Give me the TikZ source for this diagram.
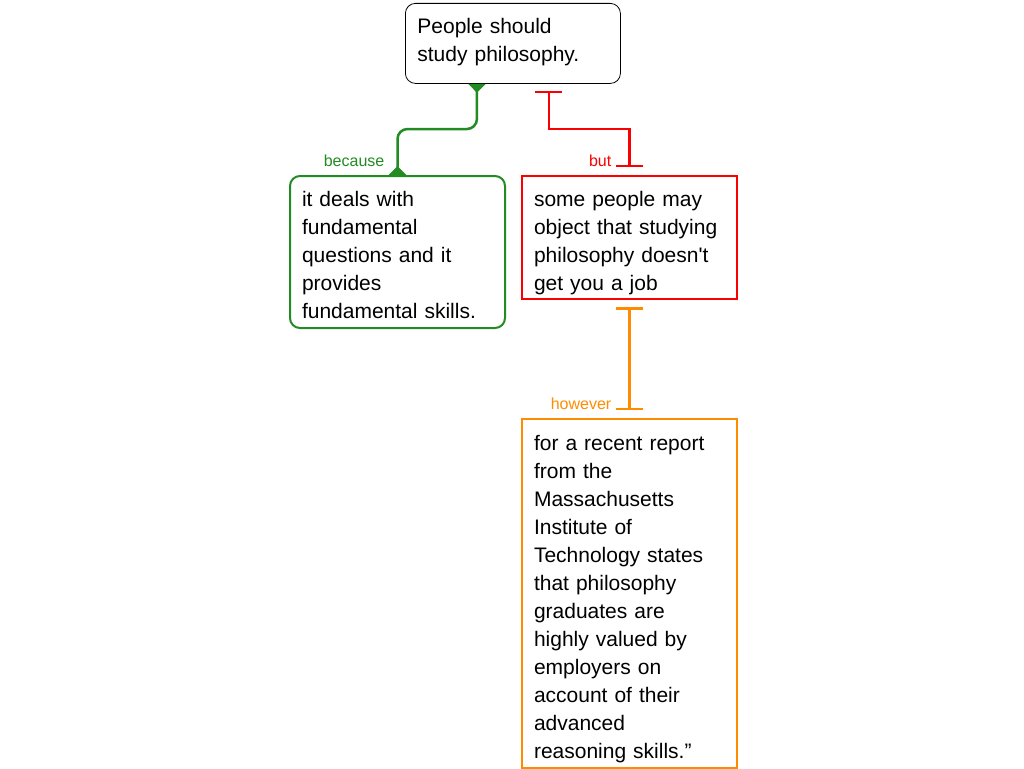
\documentclass[tikz,border=0pt]{standalone}
\usepackage{fontspec}
\setmainfont{Liberation Sans}[Ligatures=TeXOff]
\usetikzlibrary{arrows.meta,calc}
\definecolor{becausegreen}{RGB}{34,139,34}
\definecolor{butred}{RGB}{250,0,0}
\definecolor{howeverorange}{RGB}{255,140,0}

\begin{document}
\begin{tikzpicture}[x=1pt,y=-1pt,
  claim/.style={anchor=north west, text width=191pt, inner xsep=12pt, inner ysep=0pt,
    align=left, text height=30pt, font=\fontsize{21}{28}\selectfont},
  mainbox/.style={claim, draw=black, line width=0.8pt, rounded corners=10pt},
  greenbox/.style={claim, draw=becausegreen, line width=2pt, rounded corners=10pt},
  redbox/.style={claim, draw=butred, line width=2pt},
  orangebox/.style={claim, draw=howeverorange, line width=2pt},
  lbl/.style={anchor=east, inner sep=0pt, font=\fontsize{16}{18}\selectfont},
  support/.style={draw=becausegreen, line width=2.5pt, rounded corners=10pt,
    {Triangle[reversed,width=17pt,length=9pt]}-{Triangle[reversed,width=17pt,length=9pt]}},
  attack/.style={line width=2.5pt, shorten <=7pt, shorten >=8pt,
    {Bar[width=27pt,line width=2.5pt]}-{Bar[width=27pt,line width=2.5pt]}}]
\useasboundingbox (0,0) rectangle (1024,768);

% Boxes
\node[mainbox, text depth=50pt] (claim) at (405,3) {People should\\study philosophy.};
\node[greenbox, text depth=122pt] (reason) at (289,175) {it deals with\\fundamental\\questions and it\\provides\\fundamental skills.};
\node[redbox, text depth=93pt] (objection) at (521,175) {some people may\\object that studying\\philosophy doesn't\\get you a job};
\node[orangebox, text height=31pt, text depth=318pt] (rebuttal) at (521,418) {for a recent report\\from the\\Massachusetts\\Institute of\\Technology states\\that philosophy\\graduates are\\highly valued by\\employers on\\account of their\\advanced\\reasoning skills.”};

% Connectors
\coordinate (gx) at ($(claim.south west)!1/3!(claim.south east)$);
\coordinate (rx) at ($(claim.south west)!2/3!(claim.south east)$);
\draw[support] (gx) |- ($(reason.north)+(0,-46)$) -- (reason.north);
\draw[attack, butred] (rx) |- ($(objection.north)+(0,-46)$) -- (objection.north);
\draw[attack, howeverorange] (objection.south) -- (rebuttal.north);

% Labels
\node[lbl, text=becausegreen] (lbecause) at ($(reason.north)+(-13,-14)$) {because};
\node[lbl, text=butred] (lbut) at ($(objection.north)+(-18,-14)$) {but};
\node[lbl, text=howeverorange] (lhowever) at ($(rebuttal.north)+(-18,-14)$) {however};

\end{tikzpicture}
\end{document}
